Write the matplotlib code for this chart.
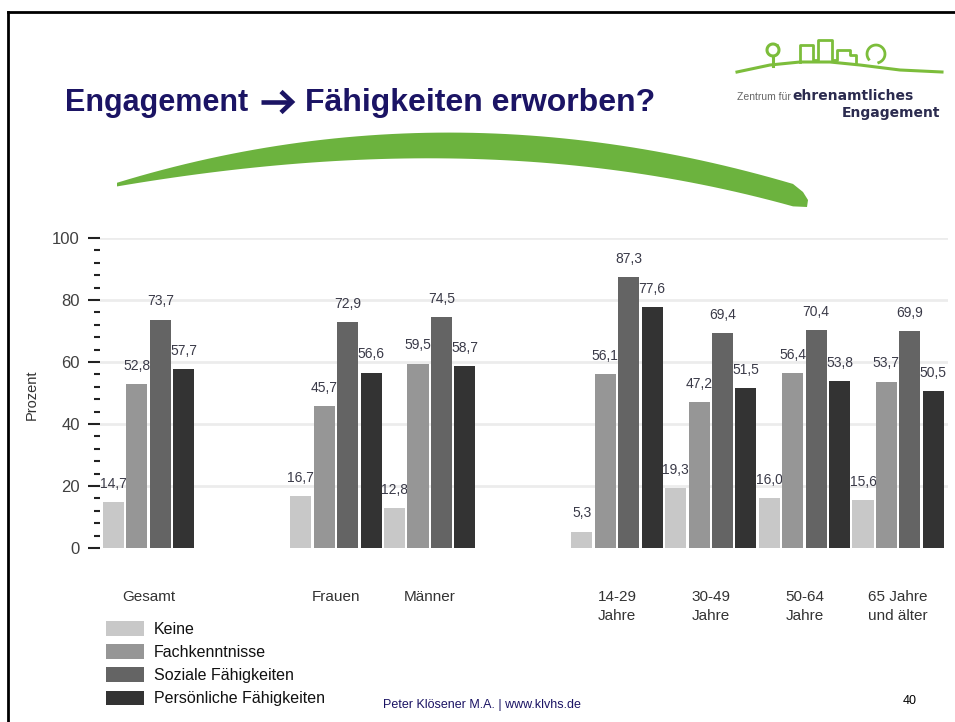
import matplotlib.pyplot as plt
import numpy as np
from matplotlib.patches import Polygon, Patch
from matplotlib.lines import Line2D

plt.rcParams['font.family'] = ['Liberation Sans', 'DejaVu Sans']

# Daten (Prozent)
gruppen = ["Gesamt", "Frauen", "Männer", "14-29\nJahre", "30-49\nJahre",
           "50-64\nJahre", "65 Jahre\nund älter"]
reihen = ["Keine", "Fachkenntnisse", "Soziale Fähigkeiten", "Persönliche Fähigkeiten"]
keine = [14.7, 16.7, 12.8, 5.3, 19.3, 16.0, 15.6]
fachkenntnisse = [52.8, 45.7, 59.5, 56.1, 47.2, 56.4, 53.7]
soziale = [73.7, 72.9, 74.5, 87.3, 69.4, 70.4, 69.9]
persoenliche = [57.7, 56.6, 58.7, 77.6, 51.5, 53.8, 50.5]
werte = [keine, fachkenntnisse, soziale, persoenliche]
farben = ["#c8c8c8", "#969696", "#646464", "#333333"]

# Lage der Gruppen (leere Plätze zwischen Gesamt / Geschlecht / Alter)
plaetze = np.array([0, 2, 3, 5, 6, 7, 8])

W, H = 955, 722
fig = plt.figure(figsize=(W / 100, H / 100), dpi=100)


def fx(px):
    return px / W


def fy(py):
    return 1 - py / H


def linie(punkte, **kw):
    fig.add_artist(Line2D([fx(x) for x, y in punkte], [fy(y) for x, y in punkte], **kw))


# Rahmen der Folie
linie([(8, 12), (W, 12)], color="black", lw=2)
linie([(8, 12), (8, H)], color="black", lw=2)

# Titel
navy = "#1b1464"
fig.text(fx(65), fy(111), "Engagement", fontsize=22, fontweight="bold",
         color=navy, va="baseline", ha="left")
linie([(261, 102), (291, 102)], color=navy, lw=3.3, solid_capstyle="butt")
linie([(281, 91.5), (292, 102), (281, 112.5)], color=navy, lw=3.3,
      solid_joinstyle="miter", solid_capstyle="butt")
fig.text(fx(305), fy(111), "Fähigkeiten erworben?", fontsize=23, fontweight="bold",
         color=navy, va="baseline", ha="left")

# gruener Schwung
oben = np.array([(117, 183), (200, 160), (300, 143), (400, 134), (460, 132),
                 (560, 138), (660, 153), (760, 173), (793, 185)])
unten = np.array([(793, 207), (760, 197), (660, 177), (560, 163), (460, 160),
                  (400, 159), (300, 163), (200, 173), (117, 187)])
xo = np.linspace(117, 793, 60)
yo = np.polyval(np.polyfit(oben[:, 0], oben[:, 1], 3), xo)
yu = np.polyval(np.polyfit(unten[:, 0], unten[:, 1], 3), xo)
rand = list(zip(xo, yo)) + [(803, 192), (808, 200), (807, 207)] + list(zip(xo[::-1], yu[::-1]))
fig.add_artist(Polygon([(fx(x), fy(y)) for x, y in rand], closed=True,
                       facecolor="#6cb33e", edgecolor="none"))

# Logo
gruen = "#7cbd3b"
linie([(737, 72), (770, 65), (800, 62), (830, 62), (860, 65), (900, 70), (942, 72)],
      color=gruen, lw=2.2)
t = np.linspace(0.3 * np.pi, 2.2 * np.pi, 30)
linie(list(zip(773 + 6 * np.cos(t), 50 - 6 * np.sin(t))), color=gruen, lw=2.2)
linie([(773, 56), (773, 66)], color=gruen, lw=2.2)
linie([(800, 62), (800, 45), (813, 45), (813, 60), (818, 60), (818, 40), (832, 40),
       (832, 60), (837, 60), (837, 50), (850, 50), (850, 55), (856, 55), (856, 64)],
      color=gruen, lw=2.0)
t = np.linspace(-0.4 * np.pi, 1.2 * np.pi, 30)
linie(list(zip(876 + 9 * np.cos(t), 54 - 9 * np.sin(t))), color=gruen, lw=2.0)
fig.text(fx(737), fy(100), "Zentrum für", fontsize=7.5, color="#666666", va="baseline")
fig.text(fx(792), fy(100), "ehrenamtliches", fontsize=10, fontweight="bold",
         family="DejaVu Sans", color="#2b2b4f", va="baseline", ha="left")
fig.text(fx(940), fy(117), "Engagement", fontsize=10, fontweight="bold",
         family="DejaVu Sans", color="#2b2b4f", va="baseline", ha="right")

# Diagramm
ax = fig.add_axes([fx(100), fy(548), fx(948) - fx(100), fy(238) - fy(548)])
breite = 0.225
for i, (werte_i, farbe) in enumerate(zip(werte, farben)):
    xs = plaetze + i * 0.25 + breite / 2
    ax.bar(xs, werte_i, width=breite, color=farbe, zorder=2 + 2 * i)
    for x, v in zip(xs, werte_i):
        ax.annotate(f"{v:.1f}".replace(".", ","), (x, v), xytext=(0, 8),
                    textcoords="offset points", ha="center", va="bottom",
                    fontsize=10, color="#3a3a48", zorder=3 + 2 * i)

ax.set_xlim(-0.032, 9.02)
ax.set_ylim(0, 100)
ax.set_yticks(np.arange(0, 101, 20))
ax.set_yticks(np.arange(0, 101, 4), minor=True)
ax.tick_params(axis="y", which="major", length=8.6, width=1.5, color="#222222",
               labelsize=12, labelcolor="#404040", pad=6)
ax.tick_params(axis="y", which="minor", length=4.3, width=1.5, color="#222222")
ax.set_xticks(plaetze + 0.5 - 0.0125)
ax.set_xticklabels(gruppen, fontsize=11, color="#333333", linespacing=1.5, va="top")
ax.tick_params(axis="x", length=0, pad=30)
for y in range(20, 101, 20):
    ax.axhline(y, color="#ececec", lw=2, zorder=0)
for s in ax.spines.values():
    s.set_visible(False)

fig.text(fx(32), fy(395), "Prozent", rotation=90, fontsize=10.5, color="#333333",
         ha="center", va="center")

# Legende
griffe = [Patch(facecolor=f, edgecolor="none") for f in farben]
fig.legend(griffe, reihen, loc="upper left", bbox_to_anchor=(fx(106), fy(621)),
           frameon=False, fontsize=11.5, handlelength=2.4, handleheight=1.05,
           handletextpad=0.6, labelspacing=0.46, borderpad=0, borderaxespad=0,
           labelcolor="#111111")

# Fusszeile
fig.text(fx(383), fy(708), "Peter Klösener M.A. | www.klvhs.de", fontsize=9,
         color=navy, va="baseline")
fig.text(fx(910), fy(704), "40", fontsize=9, color="black", va="baseline", ha="center")

fig.savefig("out.png", dpi=100)
